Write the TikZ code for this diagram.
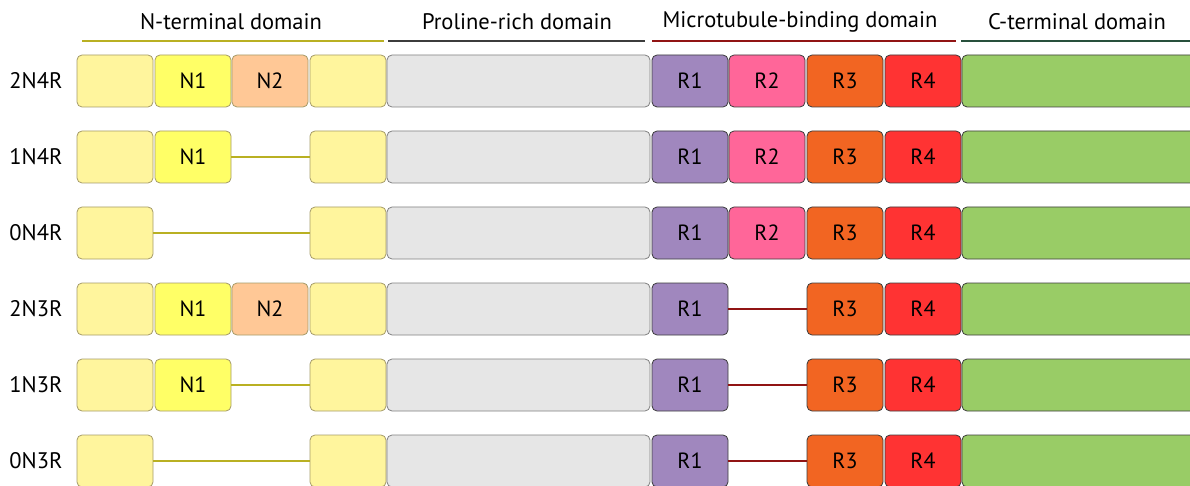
\documentclass[tikz,border=0pt]{standalone}
\usepackage{fontspec}
\setmainfont{PT Sans}
\definecolor{ylight}{RGB}{255,245,157}
\definecolor{yN1}{RGB}{255,255,102}
\definecolor{oN2}{RGB}{255,200,150}
\definecolor{pgray}{RGB}{230,230,230}
\definecolor{rOne}{RGB}{160,135,190}
\definecolor{rTwo}{RGB}{255,102,153}
\definecolor{rThree}{RGB}{242,101,34}
\definecolor{rFour}{RGB}{255,51,51}
\definecolor{cgreen}{RGB}{153,204,102}
\definecolor{olive}{RGB}{185,176,35}
\definecolor{ybord}{RGB}{165,155,105}
\definecolor{dred}{RGB}{145,20,20}
\definecolor{dgreen}{RGB}{40,80,60}
\definecolor{dgray}{RGB}{60,60,60}
\tikzset{
  seg/.style={draw=dgray, line width=0.8pt, rounded corners=5pt, minimum width=76pt, minimum height=52pt, inner sep=0pt, font=\fontsize{22}{26}\selectfont},
  yseg/.style={seg, draw=ybord, fill=ylight},
  rowlab/.style={font=\fontsize{22.5}{26}\selectfont, anchor=center},
  head/.style={font=\fontsize{22.5}{26}\selectfont, anchor=center},
  nlink/.style={draw=olive, line width=2pt},
  rlink/.style={draw=dred, line width=2pt},
}
\begin{document}
\begin{tikzpicture}[x=1pt,y=-1pt]
\useasboundingbox (0,0) rectangle (1190,486);
% headers
\node[head] (hN) at (231,22) {N-terminal domain};
\node[head] (hP) at (517,22) {Proline-rich domain};
\node[head] (hM) at (800,22) {Microtubule-binding domain};
\node[head] (hC) at (1077,22) {C-terminal domain};
\draw[olive, line width=2pt] (82,41) -- (384,41);
\draw[dgray, line width=2pt] (388,41) -- (645,41);
\draw[dred, line width=2pt] (652,41) -- (956,41);
\draw[dgreen, line width=2pt] (961,41) -- (1195,41);
% rows
\foreach \name/\y/\nn/\rr in {a/81/2/4, b/157/1/4, c/233/0/4, d/309/2/3, e/385/1/3, f/461/0/3}{
  \node[rowlab] (\name lab) at (36,\y) {\nn N\rr R};
  \node[yseg] (\name b1) at (115,\y) {};
  \node[yseg] (\name b4) at (348,\y) {};
  \node[seg, fill=pgray, draw=gray, minimum width=263pt] (\name pr) at (518.5,\y) {};
  \node[seg, fill=rOne] (\name r1) at (690,\y) {R1};
  \node[seg, fill=rThree] (\name r3) at (845,\y) {R3};
  \node[seg, fill=rFour] (\name r4) at (923,\y) {R4};
  \node[seg, fill=cgreen, minimum width=238pt] (\name ct) at (1081,\y) {};
}
% N inserts
\node[seg, draw=ybord, fill=yN1] (an1) at (193,81) {N1};
\node[seg, draw=ybord, fill=oN2] (an2) at (270,81) {N2};
\node[seg, draw=ybord, fill=yN1] (bn1) at (193,157) {N1};
\node[seg, draw=ybord, fill=yN1] (dn1) at (193,309) {N1};
\node[seg, draw=ybord, fill=oN2] (dn2) at (270,309) {N2};
\node[seg, draw=ybord, fill=yN1] (en1) at (193,385) {N1};
% R2 inserts
\node[seg, fill=rTwo] (ar2) at (767,81) {R2};
\node[seg, fill=rTwo] (br2) at (767,157) {R2};
\node[seg, fill=rTwo] (cr2) at (767,233) {R2};
% links
\draw[nlink] (bn1.east) -- (bb4.west);
\draw[nlink] (cb1.east) -- (cb4.west);
\draw[nlink] (en1.east) -- (eb4.west);
\draw[nlink] (fb1.east) -- (fb4.west);
\draw[rlink] (dr1.east) -- (dr3.west);
\draw[rlink] (er1.east) -- (er3.west);
\draw[rlink] (fr1.east) -- (fr3.west);
\end{tikzpicture}
\end{document}
